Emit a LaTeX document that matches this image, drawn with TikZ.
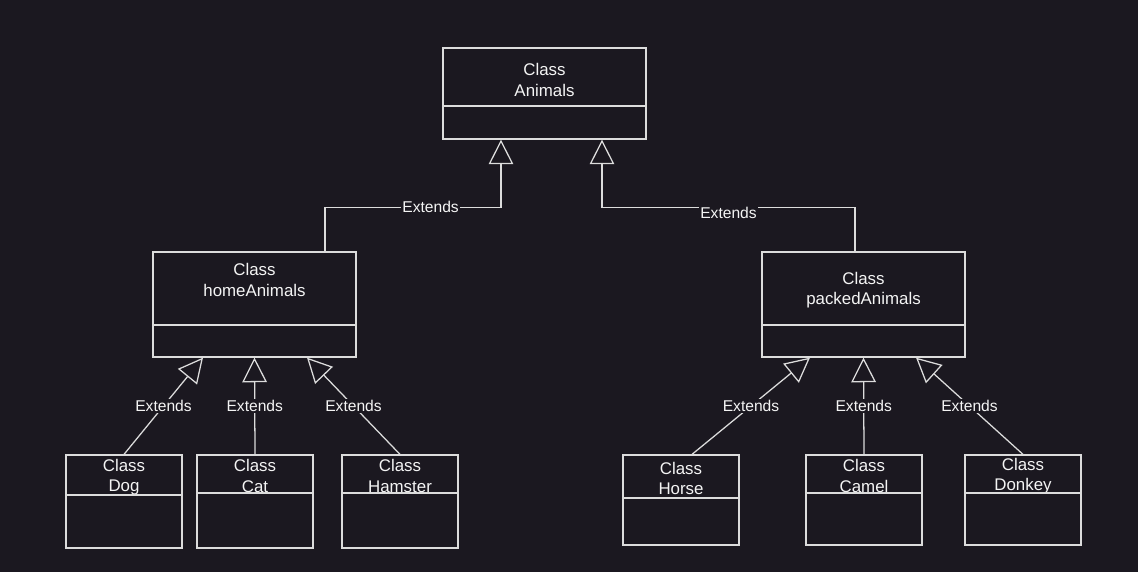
\documentclass[tikz,border=0pt]{standalone}
\usepackage{fontspec}
\setmainfont{Liberation Sans}
\usetikzlibrary{arrows.meta,calc,fit}

\definecolor{bgdark}{HTML}{1B1820}
\definecolor{umlline}{HTML}{DCDCDC}
\definecolor{umltext}{HTML}{F4F4F4}

\tikzset{
  classbox/.style={draw=umlline, line width=0.9pt, inner sep=0pt},
  divline/.style={draw=umlline, line width=0.9pt},
  classname/.style={text=umltext, align=center, inner sep=0pt,
    font=\fontsize{12}{14.4}\selectfont},
  extends/.style={draw=umlline, line width=0.9pt,
    -{Triangle[open, length=17.5pt, width=17.5pt]}},
  extlabel/.style={fill=bgdark, text=umltext, inner sep=1pt,
    font=\fontsize{11.1}{13}\selectfont}
}

\begin{document}
\begin{tikzpicture}[x=0.025cm, y=-0.025cm]
      \fill[bgdark] (0,0) rectangle (1138,572);
      \useasboundingbox (0,0) rectangle (1138,572);

      % top class
      \node[classname] (animalsname) at (544.5,80) {Class\\Animals};
      \node[classbox, fit={(443,48) (646,139)}] (animals) {};
      \draw[divline] (animals.west |- 0,106) -- (animals.east |- 0,106);

      % second row
      \begin{scope}
        \node[classname] (homename) at (254.5,280) {Class\\homeAnimals};
        \node[classbox, fit={(153,252) (356,357)}] (home) {};
        \draw[divline] (home.west |- 0,325) -- (home.east |- 0,325);

        \node[classname] (packedname) at (863.5,290) {Class\\packedAnimals};
        \node[classbox, fit={(762,252) (965,357)}] (packed) {};
        \draw[divline] (packed.west |- 0,325) -- (packed.east |- 0,325);
      \end{scope}

      % leaves of homeAnimals
      \begin{scope}
        \node[classname] (dogname) at (124,477.5) {Class\\Dog};
        \node[classbox, fit={(66,455) (182,548)}] (dog) {};
        \draw[divline] (dog.west |- 0,495) -- (dog.east |- 0,495);

        \node[classname] (catname) at (255,476) {Class\\Cat};
        \node[classbox, fit={(197,455) (313,548)}] (cat) {};
        \draw[divline] (cat.west |- 0,493) -- (cat.east |- 0,493);

        \node[classname] (hamstername) at (400,476) {Class\\Hamster};
        \node[classbox, fit={(342,455) (458,548)}] (hamster) {};
        \draw[divline] (hamster.west |- 0,493) -- (hamster.east |- 0,493);
      \end{scope}

      % leaves of packedAnimals
      \begin{scope}
        \node[classname] (horsename) at (681,478.5) {Class\\Horse};
        \node[classbox, fit={(623,455) (739,545)}] (horse) {};
        \draw[divline] (horse.west |- 0,498) -- (horse.east |- 0,498);

        \node[classname] (camelname) at (864,476) {Class\\Camel};
        \node[classbox, fit={(806,455) (922,545)}] (camel) {};
        \draw[divline] (camel.west |- 0,493) -- (camel.east |- 0,493);

        \node[classname] (donkeyname) at (1023,476) {Class\\Donkey};
        \node[classbox, fit={(965,455) (1081,545)}] (donkey) {};
        \draw[divline] (donkey.west |- 0,493) -- (donkey.east |- 0,493);
      \end{scope}

      % inheritance
      \draw[extends] ($(home.north)+(70.5,0)$) -- ++(0,-44)
        -| node[extlabel, pos=0.3] {Extends} ($(animals.south)+(-43.5,0)$);
      \draw[extends] ($(packed.north)+(-8.5,0)$) -- ++(0,-44)
        -| node[extlabel, pos=0.25, yshift=-4] {Extends} ($(animals.south)+(57.5,0)$);

      \draw[extends] (dog.north) -- node[extlabel] {Extends} ($(home.south)+(-51.5,0)$);
      \draw[extends] (cat.north) -- node[extlabel] {Extends} (home.south);
      \draw[extends] (hamster.north) -- node[extlabel] {Extends} ($(home.south)+(52.5,0)$);

      \draw[extends] ($(horse.north)+(11,0)$) -- node[extlabel] {Extends} ($(packed.south)+(-53.5,0)$);
      \draw[extends] (camel.north) -- node[extlabel] {Extends} (packed.south);
      \draw[extends] (donkey.north) -- node[extlabel] {Extends} ($(packed.south)+(52.5,0)$);
    \end{tikzpicture}
\end{document}
